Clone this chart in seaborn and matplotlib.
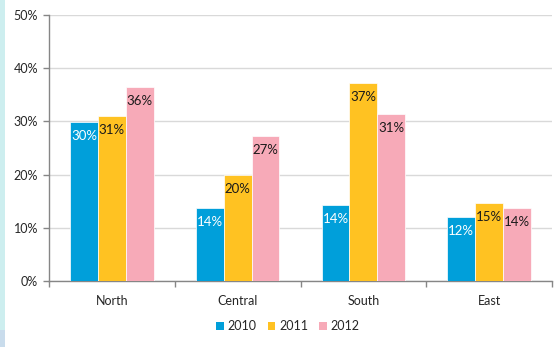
import matplotlib
matplotlib.use("Agg")
import matplotlib.pyplot as plt
import seaborn as sns
import pandas as pd
from matplotlib.patches import Rectangle
from matplotlib.ticker import FixedLocator

# Share by region and year (percent)
regions = ["North", "Central", "South", "East"]
years = ["2010", "2011", "2012"]
share_2010 = [29.8, 13.8, 14.3, 12.0]
share_2011 = [31.0, 20.0, 37.2, 14.6]
share_2012 = [36.4, 27.3, 31.4, 13.7]
y_ticks = [0, 10, 20, 30, 40, 50]
y_tick_labels = ["0%", "10%", "20%", "30%", "40%", "50%"]

palette = {"2010": "#009FDA", "2011": "#FFC222", "2012": "#F7AAB8"}
label_colors = {"2010": "white", "2011": "#1a1a1a", "2012": "#1a1a1a"}

rows = []
for year, vals in zip(years, [share_2010, share_2011, share_2012]):
    for region, v in zip(regions, vals):
        rows.append({"region": region, "year": year, "share": v})
df = pd.DataFrame(rows)

sns.set_theme(style="white")
plt.rcParams["font.family"] = ["Lato", "DejaVu Sans"]

W, H = 559, 347
fig = plt.figure(figsize=(W / 100, H / 100), dpi=100)
fig.patch.set_facecolor("white")

# slide edge strip on the left
fig.patches.append(Rectangle((0, 17 / H), 5 / W, 1 - 17 / H, transform=fig.transFigure,
                             facecolor="#CDEEEF", edgecolor="none", zorder=0))
fig.patches.append(Rectangle((0, 0), 5 / W, 17 / H, transform=fig.transFigure,
                             facecolor="#C9DCEC", edgecolor="none", zorder=0))

ax = fig.add_axes([49 / W, (H - 281) / H, (552 - 49) / W, (281 - 15) / H])

sns.barplot(data=df, x="region", y="share", hue="year", order=regions, hue_order=years,
            palette=palette, width=0.665, gap=0, ax=ax, legend=False,
            edgecolor="white", linewidth=0.5, saturation=1, zorder=3)

ax.set_xlim(-0.5, len(regions) - 0.5)
ax.set_ylim(0, 50)
ax.set_yticks(y_ticks)
ax.set_yticklabels(y_tick_labels)
ax.set_xlabel("")
ax.set_ylabel("")

ax.yaxis.grid(True, color="#D9D9D9", linewidth=1.0, zorder=0)
ax.set_axisbelow(True)
for side in ["top", "right"]:
    ax.spines[side].set_visible(False)
for side in ["left", "bottom"]:
    ax.spines[side].set_color("#868686")
    ax.spines[side].set_linewidth(1.0)

ax.tick_params(axis="y", length=4, width=1, color="#868686", labelsize=9,
               labelcolor="#262626", pad=4, left=True)
ax.tick_params(axis="x", which="major", length=0, labelsize=9, labelcolor="#262626", pad=10)
ax.xaxis.set_minor_locator(FixedLocator([i - 0.5 for i in range(len(regions) + 1)]))
ax.tick_params(axis="x", which="minor", length=4, width=1, color="#868686", bottom=True)

# value labels inside the top of each bar
for container, year in zip(ax.containers, years):
    for bar in container:
        v = bar.get_height()
        ax.annotate(f"{v:.0f}%", (bar.get_x() + bar.get_width() / 2, v),
                    xytext=(0, -14), textcoords="offset pixels",
                    ha="center", va="center", fontsize=9.5,
                    color=label_colors[year], zorder=5)

handles = [Rectangle((0, 0), 1, 1, facecolor=palette[y], edgecolor="none") for y in years]
fig.legend(handles, years, loc="center", bbox_to_anchor=(288 / W, 1 - 326 / H),
           ncol=3, frameon=False, fontsize=9, handlelength=0.6, handleheight=0.6,
           handletextpad=0.3, columnspacing=0.9, labelcolor="#262626")

fig.savefig("out.png", dpi=100, facecolor="white")
